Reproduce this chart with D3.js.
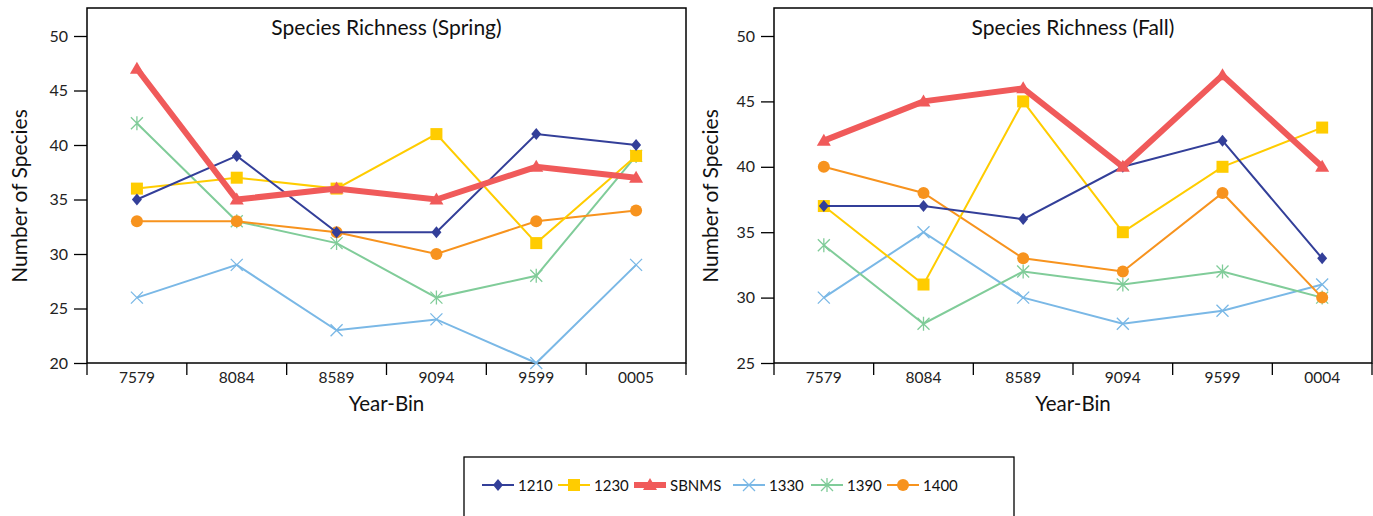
<!DOCTYPE html>
<html><head><meta charset="utf-8">
<script src="https://cdn.jsdelivr.net/npm/d3@7"></script>
<style>
html,body{margin:0;padding:0;background:#fff;}
svg{display:block;font-family:Lato,"Open Sans",sans-serif;}
</style></head>
<body>
<svg id="c" width="1373" height="516"></svg>
<script>
// ---- data ----
const categoriesSpring = ["7579","8084","8589","9094","9599","0005"];
const categoriesFall   = ["7579","8084","8589","9094","9599","0004"];
const seriesNames = ["1210","1230","SBNMS","1330","1390","1400"];
const spring1210  = [35,39,32,32,41,40];
const spring1230  = [36,37,36,41,31,39];
const springSBNMS = [47,35,36,35,38,37];
const spring1330  = [26,29,23,24,20,29];
const spring1390  = [42,33,31,26,28,39];
const spring1400  = [33,33,32,30,33,34];
const fall1210  = [37,37,36,40,42,33];
const fall1230  = [37,31,45,35,40,43];
const fallSBNMS = [42,45,46,40,47,40];
const fall1330  = [30,35,30,28,29,31];
const fall1390  = [34,28,32,31,32,30];
const fall1400  = [40,38,33,32,38,30];
const springTicks = [20,25,30,35,40,45,50];
const fallTicks   = [25,30,35,40,45,50];

// ---- styles ----
const styles = {
  "1210":  {color:"#333f99", width:2,   marker:"diamond"},
  "1230":  {color:"#ffcc00", width:2,   marker:"square"},
  "SBNMS": {color:"#f05a5a", width:6,   marker:"triangle"},
  "1330":  {color:"#7ab8e6", width:2,   marker:"x"},
  "1390":  {color:"#80cc99", width:2,   marker:"asterisk"},
  "1400":  {color:"#f7931e", width:2,   marker:"circle"}
};
const drawOrder = ["1330","1390","1400","1230","1210","SBNMS"];
const legendStarts = [482,558,634,733,811,887];

const svg = d3.select("#c");

function marker(g, type, x, y, color){
  if(type==="diamond"){
    g.append("path").attr("d",`M${x},${y-6}L${x+5},${y}L${x},${y+6}L${x-5},${y}Z`).attr("fill",color);
  } else if(type==="square"){
    g.append("rect").attr("x",x-6).attr("y",y-6).attr("width",12).attr("height",12).attr("fill",color);
  } else if(type==="triangle"){
    g.append("path").attr("d",`M${x},${y-7}L${x+7},${y+5}L${x-7},${y+5}Z`).attr("fill",color);
  } else if(type==="circle"){
    g.append("circle").attr("cx",x).attr("cy",y).attr("r",6).attr("fill",color);
  } else if(type==="x"){
    g.append("path").attr("d",`M${x-6},${y-6}L${x+6},${y+6}M${x-6},${y+6}L${x+6},${y-6}`).attr("stroke",color).attr("stroke-width",1.3);
  } else if(type==="asterisk"){
    g.append("path").attr("d",`M${x-6},${y-6}L${x+6},${y+6}M${x-6},${y+6}L${x+6},${y-6}M${x},${y-7}L${x},${y+7}`).attr("stroke",color).attr("stroke-width",1.3);
  }
}

function panel(opt){
  const g = svg.append("g");
  const x = d3.scaleBand().domain(opt.cats).range([opt.left, opt.right]);
  const y = d3.scaleLinear().domain(opt.ydom).range([363, 36]);
  g.append("rect").attr("x",opt.left).attr("y",8).attr("width",opt.right-opt.left).attr("height",355)
    .attr("fill","none").attr("stroke","#000").attr("stroke-width",1.5);
  const ya = g.append("g").attr("transform",`translate(${opt.left},0)`)
    .call(d3.axisLeft(y).tickValues(opt.ticks).tickSize(13).tickPadding(6).tickFormat(d3.format("d")));
  ya.select(".domain").remove();
  ya.selectAll("line").attr("stroke","#000").attr("stroke-width",1.3);
  ya.selectAll("text").attr("font-size",16).attr("fill","#222").attr("font-family","Lato,sans-serif");
  const xa = g.append("g").attr("transform","translate(0,363)");
  const bounds = opt.cats.map(c=>x(c)).concat([x(opt.cats[opt.cats.length-1])+x.bandwidth()]);
  xa.selectAll("line").data(bounds).join("line")
    .attr("x1",d=>d).attr("x2",d=>d).attr("y1",0).attr("y2",12).attr("stroke","#000").attr("stroke-width",1.3);
  xa.selectAll("text").data(opt.cats).join("text")
    .attr("x",d=>x(d)+x.bandwidth()/2).attr("y",19.5).attr("text-anchor","middle")
    .attr("font-size",15.5).attr("fill","#222").text(d=>d);
  g.append("text").attr("x",(opt.left+opt.right)/2).attr("y",35).attr("text-anchor","middle")
    .attr("font-size",21).attr("fill","#111").text(opt.title);
  g.append("text").attr("x",(opt.left+opt.right)/2).attr("y",411).attr("text-anchor","middle")
    .attr("font-size",20.5).attr("fill","#111").text("Year-Bin");
  g.append("text").attr("transform",`translate(${opt.ylabX},196) rotate(-90)`).attr("text-anchor","middle")
    .attr("font-size",21).attr("fill","#111").text("Number of Species");
  const line = d3.line().x((d,i)=>x(opt.cats[i])+x.bandwidth()/2).y(d=>y(d));
  drawOrder.forEach(name=>{
    const vals = opt.data[name], st = styles[name];
    g.append("path").attr("d",line(vals)).attr("fill","none").attr("stroke",st.color)
      .attr("stroke-width",st.width).attr("stroke-linejoin","miter");
    vals.forEach((v,i)=>marker(g, st.marker, x(opt.cats[i])+x.bandwidth()/2, y(v), st.color));
  });
}

panel({left:87, right:686, cats:categoriesSpring, ydom:[20,50], ticks:springTicks, ylabX:27,
  title:"Species Richness (Spring)",
  data:{"1210":spring1210,"1230":spring1230,"SBNMS":springSBNMS,"1330":spring1330,"1390":spring1390,"1400":spring1400}});
panel({left:774, right:1372, cats:categoriesFall, ydom:[25,50], ticks:fallTicks, ylabX:718,
  title:"Species Richness (Fall)",
  data:{"1210":fall1210,"1230":fall1230,"SBNMS":fallSBNMS,"1330":fall1330,"1390":fall1390,"1400":fall1400}});

const lg = svg.append("g");
lg.append("rect").attr("x",464).attr("y",457).attr("width",550).attr("height",70)
  .attr("fill","#fff").attr("stroke","#000").attr("stroke-width",1.3);
seriesNames.forEach((name,i)=>{
  const st = styles[name], cx = legendStarts[i];
  lg.append("line").attr("x1",cx).attr("x2",cx+32).attr("y1",485).attr("y2",485)
    .attr("stroke",st.color).attr("stroke-width",st.width);
  marker(lg, st.marker, cx+16, 485, st.color);
  lg.append("text").attr("x",cx+36).attr("y",490.5).attr("font-size",15).attr("fill","#111").text(name);
});
</script>
</body></html>
